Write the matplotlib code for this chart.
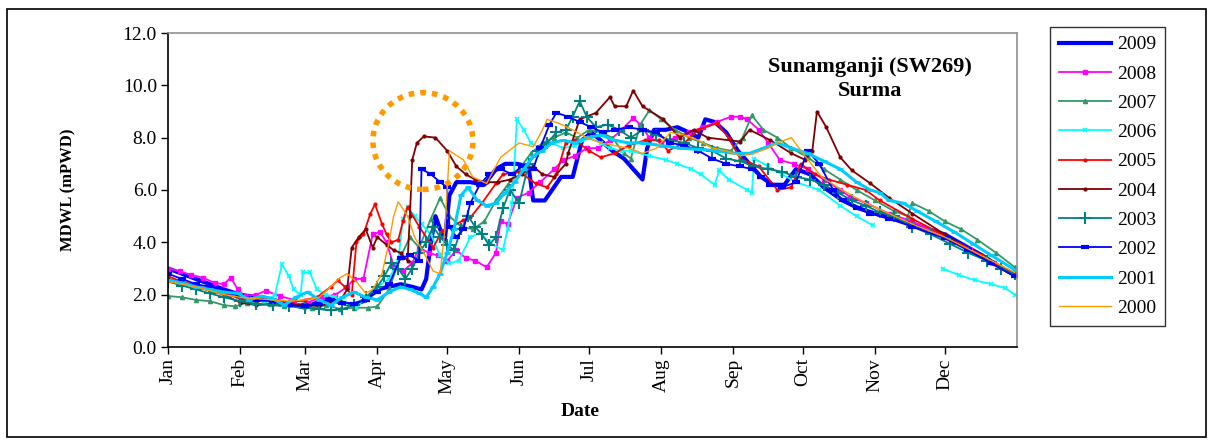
import matplotlib
matplotlib.use('Agg')
import matplotlib.pyplot as plt
from matplotlib.patches import Ellipse, Rectangle
import numpy as np

plt.rcParams['font.family'] = ['Liberation Serif', 'DejaVu Serif']

# ---- data: day of year (0 = 1 Jan) and water level (mPWD) ----
MONTHS = ['Jan', 'Feb', 'Mar', 'Apr', 'May', 'Jun', 'Jul', 'Aug', 'Sep', 'Oct', 'Nov', 'Dec']
MONTH_START = [0, 31, 59, 90, 120, 151, 181, 212, 243, 273, 304, 334]

DAYS_2009 = [0, 6, 12, 18, 24, 31, 38, 45, 52, 59, 64, 69, 74, 79, 84, 90, 95, 100, 105, 109,
             111, 113, 115, 117, 119, 121, 124, 130, 136, 141, 145, 150, 155, 157, 162, 169, 174, 178, 182, 186,
             191, 196, 200, 204, 206, 209, 214, 219, 224, 228, 231, 235, 240, 245, 250, 255, 260, 265, 270, 276,
             282, 290, 297, 304, 312, 320, 327, 334, 342, 350, 357, 364]
WL_2009 = [3.0, 2.8, 2.6, 2.4, 2.2, 2.0, 1.9, 1.8, 1.65, 1.5, 1.7, 1.85, 1.7, 1.6, 1.75, 2.2, 2.3, 2.4, 2.3, 2.2,
           2.6, 4.0, 5.0, 4.5, 4.1, 5.8, 6.3, 6.3, 6.2, 6.8, 7.0, 7.0, 6.9, 5.6, 5.6, 6.5, 6.5, 7.9, 8.2, 7.9,
           7.5, 7.2, 6.8, 6.4, 7.6, 8.3, 8.3, 8.4, 8.2, 8.0, 8.7, 8.6, 8.2, 7.5, 7.0, 6.5, 6.2, 6.2, 6.8, 6.6,
           6.1, 5.6, 5.3, 5.1, 4.9, 4.7, 4.5, 4.3, 3.9, 3.5, 3.1, 2.75]

DAYS_2008 = [0, 5, 10, 15, 20, 24, 27, 30, 33, 38, 42, 48, 54, 60, 66, 72, 77, 80, 84, 88,
             91, 94, 97, 101, 105, 108, 112, 116, 120, 124, 128, 132, 137, 141, 143, 146, 150, 155, 160, 166,
             170, 175, 180, 185, 190, 195, 200, 203, 207, 212, 218, 224, 230, 236, 242, 246, 249, 254, 258, 263,
             269, 275, 282, 289, 293, 300, 310, 320, 334, 345, 355, 364]
WL_2008 = [3.0, 2.9, 2.75, 2.65, 2.45, 2.4, 2.65, 2.2, 1.95, 2.0, 2.15, 1.95, 1.8, 1.7, 1.9, 2.0, 2.3, 2.6, 2.6, 4.3,
           4.4, 4.0, 3.1, 2.9, 3.2, 3.8, 3.6, 3.5, 3.3, 3.7, 3.4, 3.3, 3.05, 3.6, 4.8, 4.7, 5.7, 5.9, 6.3, 6.8,
           7.15, 7.3, 7.6, 7.6, 7.9, 8.3, 8.75, 8.5, 8.0, 7.8, 8.0, 8.2, 8.4, 8.6, 8.8, 8.8, 8.7, 8.3, 7.8, 7.15,
           7.0, 6.8, 6.4, 6.0, 5.75, 5.5, 5.1, 4.8, 4.2, 3.7, 3.2, 2.8]

DAYS_2007 = [0, 6, 12, 18, 24, 29, 34, 38, 44, 50, 56, 62, 68, 74, 80, 86, 90, 95, 100, 104,
             108, 113, 117, 121, 126, 131, 136, 141, 146, 151, 156, 161, 166, 171, 176, 181, 186, 191, 196, 199,
             203, 207, 212, 218, 224, 230, 236, 242, 247, 251, 256, 262, 268, 275, 282, 289, 296, 304, 312, 318,
             320, 327, 334, 341, 348, 356, 364]
WL_2007 = [1.95, 1.9, 1.8, 1.75, 1.6, 1.55, 1.7, 1.8, 1.65, 1.55, 1.6, 1.5, 1.6, 1.45, 1.5, 1.5, 1.55, 2.2, 3.45, 4.2,
           3.8, 4.9, 5.7, 5.0, 4.6, 4.5, 4.8, 5.6, 6.2, 6.8, 7.4, 7.8, 8.0, 8.2, 8.0, 8.3, 8.2, 8.0, 7.4, 7.2,
           8.5, 9.05, 8.7, 8.3, 8.0, 7.8, 7.6, 7.5, 8.0, 8.85, 8.3, 8.0, 7.6, 7.25, 6.8, 6.4, 6.0, 5.6, 5.2, 5.0,
           5.5, 5.2, 4.8, 4.5, 4.1, 3.6, 3.05]

DAYS_2006 = [0, 6, 12, 18, 24, 30, 36, 42, 46, 49, 52, 54, 57, 58, 61, 64, 68, 72, 76, 81,
             85, 90, 95, 99, 101, 103, 106, 109, 113, 117, 121, 125, 130, 134, 138, 144, 146, 148, 150, 153,
             156, 160, 165, 170, 175, 181, 186, 190, 195, 199, 207, 214, 219, 225, 229, 235, 237, 241, 249, 251,
             252, 258, 264, 270, 280, 289, 296, 303, 318, 333, 340, 347, 354, 360, 364]
WL_2006 = [2.6, 2.45, 2.3, 2.2, 2.05, 1.9, 1.85, 1.75, 2.0, 3.17, 2.7, 2.2, 2.0, 2.85, 2.85, 2.2, 2.0, 1.9, 1.7, 1.5,
           1.9, 2.3, 2.6, 3.3, 4.9, 5.35, 5.0, 4.7, 4.3, 3.5, 3.2, 3.3, 4.2, 4.35, 4.0, 3.7, 4.5, 5.5, 8.7, 8.3,
           7.8, 7.6, 7.8, 7.6, 7.7, 8.0, 7.8, 7.6, 7.5, 7.5, 7.3, 7.15, 7.0, 6.8, 6.6, 6.2, 6.75, 6.4, 6.0, 5.9,
           7.2, 6.9, 6.6, 6.3, 6.0, 5.4, 5.0, 4.65, np.nan, 3.0, 2.75, 2.55, 2.4, 2.25, 2.0]

DAYS_2005 = [0, 6, 12, 18, 24, 31, 38, 45, 52, 59, 64, 70, 73, 76, 79, 81, 84, 87, 89, 92,
             94, 96, 99, 101, 103, 108, 114, 118, 122, 127, 130, 135, 141, 144, 151, 158, 163, 167, 171, 175,
             181, 186, 192, 198, 205, 211, 215, 222, 228, 236, 241, 246, 254, 262, 268, 272, 278, 284, 292, 300,
             306, 320, 335, 350, 364]
WL_2005 = [2.7, 2.5, 2.35, 2.2, 2.05, 1.85, 1.75, 1.8, 1.7, 1.8, 1.9, 2.3, 2.55, 2.3, 2.0, 4.0, 4.3, 5.1, 5.45, 4.7,
           4.3, 4.0, 4.1, 4.8, 5.35, 4.6, 3.8, 4.45, 4.6, 4.85, 4.95, 5.5, 6.25, 6.6, 6.7, 6.25, 6.1, 6.6, 7.8, 7.9,
           7.5, 7.25, 7.4, 7.7, 7.9, 7.9, 7.5, 7.8, 8.3, 8.55, 8.0, 7.2, 6.9, 6.0, 6.1, 7.0, 6.6, 6.4, 6.2, 6.0,
           5.6, 4.9, 4.2, 3.5, 2.75]

DAYS_2004 = [0, 6, 12, 18, 24, 31, 38, 45, 52, 59, 65, 70, 74, 77, 79, 82, 85, 88, 90, 94,
             97, 100, 103, 104, 105, 107, 110, 115, 120, 124, 128, 132, 137, 142, 147, 152, 157, 161, 166, 171,
             172, 177, 184, 190, 192, 197, 200, 204, 213, 220, 226, 232, 246, 250, 259, 268, 274, 277, 279, 283,
             289, 294, 302, 310, 320, 334, 344, 354, 364]
WL_2004 = [2.6, 2.45, 2.3, 2.15, 2.0, 1.7, 1.6, 1.65, 1.6, 1.65, 1.55, 1.7, 1.75, 2.2, 3.8, 4.2, 4.5, 3.8, 4.2, 3.9,
           3.7, 3.6, 3.3, 5.0, 7.15, 7.8, 8.05, 8.0, 7.5, 6.9, 6.6, 6.4, 6.3, 6.3, 6.4, 6.6, 6.9, 6.6, 6.5, 7.0,
           7.4, 8.7, 8.95, 9.55, 9.2, 9.2, 9.8, 9.2, 8.7, 8.0, 8.3, 8.0, 7.85, 8.3, 7.9, 7.4, 7.15, 7.5, 9.0, 8.4,
           7.25, 6.75, 6.25, 5.7, 5.1, 4.3, 3.7, 3.2, 2.7]

DAYS_2003 = [0, 6, 12, 18, 24, 31, 38, 45, 52, 59, 65, 70, 75, 80, 85, 90, 93, 96, 99, 102,
             105, 108, 111, 114, 117, 120, 123, 126, 129, 132, 135, 138, 141, 144, 147, 151, 155, 159, 163, 167,
             171, 174, 177, 180, 184, 189, 194, 199, 204, 210, 216, 222, 228, 234, 240, 246, 252, 258, 264, 270,
             276, 282, 288, 294, 300, 306, 312, 320, 328, 336, 344, 352, 358, 364]
WL_2003 = [2.5, 2.35, 2.2, 2.05, 1.9, 1.75, 1.65, 1.6, 1.55, 1.5, 1.45, 1.4, 1.45, 1.6, 1.9, 2.3, 2.7, 3.2, 3.0, 2.6,
           3.0, 3.6, 4.0, 4.6, 4.2, 3.9, 3.7, 4.5, 5.0, 4.6, 4.3, 3.9, 4.2, 5.3, 6.0, 5.5, 7.0, 7.5, 7.8, 8.2,
           8.3, 8.8, 9.4, 8.8, 8.4, 8.5, 8.3, 8.0, 8.3, 8.1, 7.9, 7.8, 7.6, 7.5, 7.2, 7.1, 6.9, 6.8, 6.7, 6.5,
           6.4, 6.2, 5.9, 5.6, 5.4, 5.15, 5.0, 4.6, 4.3, 3.95, 3.6, 3.3, 3.0, 2.8]

DAYS_2002 = [0, 6, 12, 18, 24, 31, 38, 45, 52, 59, 65, 70, 75, 80, 85, 90, 95, 100, 104, 108,
             109, 113, 117, 120, 121, 124, 127, 130, 134, 138, 143, 148, 152, 157, 160, 164, 167, 172, 177, 182,
             187, 192, 198, 204, 210, 216, 222, 228, 234, 240, 246, 251, 255, 259, 264, 270, 275, 280, 286, 290,
             296, 302, 310, 320, 334, 344, 354, 364]
WL_2002 = [2.8, 2.6, 2.4, 2.3, 2.1, 1.95, 1.8, 1.75, 1.6, 1.55, 1.65, 1.8, 1.7, 1.65, 1.8, 2.1, 2.4, 3.4, 3.5, 3.3,
           6.8, 6.6, 6.3, 6.1, 4.6, 4.2, 4.5, 5.5, 6.2, 6.6, 6.8, 6.6, 6.9, 6.8, 7.6, 8.5, 8.95, 8.8, 8.6, 8.4,
           8.2, 8.3, 8.4, 8.3, 8.2, 7.8, 7.7, 7.5, 7.2, 7.0, 6.9, 6.8, 6.5, 6.2, 6.1, 6.3, 7.5, 7.0, 6.0, 5.6,
           5.3, 5.1, 4.9, 4.6, 4.15, 3.7, 3.2, 2.7]

DAYS_2001 = [0, 6, 12, 18, 24, 30, 35, 40, 45, 50, 55, 60, 65, 70, 75, 80, 85, 90, 95, 100,
             104, 108, 111, 114, 117, 120, 123, 126, 129, 133, 137, 141, 145, 149, 153, 157, 161, 165, 170, 175,
             180, 186, 192, 198, 204, 212, 220, 228, 236, 244, 250, 256, 262, 268, 275, 282, 289, 296, 302, 306,
             310, 316, 322, 330, 338, 346, 354, 364]
WL_2001 = [2.55, 2.45, 2.3, 2.2, 2.1, 2.05, 1.8, 1.95, 1.85, 1.6, 1.9, 2.1, 1.8, 1.6, 1.9, 2.1, 1.9, 1.8, 2.1, 2.3,
           2.2, 2.05, 1.9, 2.3, 2.8, 3.6, 4.5, 5.8, 6.1, 5.6, 5.4, 5.5, 5.9, 6.3, 6.8, 7.3, 7.5, 7.8, 7.9, 7.8,
           8.0, 8.1, 7.9, 7.8, 7.8, 7.7, 7.6, 7.55, 7.5, 7.4, 7.4, 7.6, 7.8, 7.6, 7.4, 7.1, 6.8, 6.3, 6.0, 5.9,
           5.6, 5.5, 5.2, 4.8, 4.4, 3.95, 3.5, 2.95]

DAYS_2000 = [0, 6, 12, 18, 24, 31, 38, 45, 52, 59, 65, 70, 74, 77, 81, 85, 88, 92, 95, 97,
             99, 103, 106, 110, 114, 117, 119, 121, 127, 131, 137, 143, 151, 157, 161, 163, 168, 174, 180, 186,
             192, 198, 204, 210, 216, 222, 228, 234, 240, 246, 252, 258, 262, 268, 273, 281, 288, 294, 300, 310,
             320, 334, 344, 354, 364]
WL_2000 = [2.5, 2.4, 2.3, 2.15, 2.0, 1.9, 1.85, 1.8, 1.75, 1.8, 1.9, 2.3, 2.65, 2.8, 2.5, 2.05, 2.2, 2.8, 4.0, 5.0,
           5.55, 5.0, 4.2, 3.6, 2.9, 2.8, 4.45, 7.5, 7.15, 6.5, 6.25, 7.25, 7.8, 7.65, 8.3, 8.7, 8.55, 8.3, 8.0, 7.8,
           7.7, 7.6, 7.4, 7.6, 8.2, 8.1, 7.9, 7.6, 7.5, 7.3, 7.4, 7.6, 7.8, 8.0, 7.4, 6.5, 6.1, 5.8, 5.5, 5.1,
           4.7, 4.2, 3.75, 3.3, 2.85]

YEARS = ['2009', '2008', '2007', '2006', '2005', '2004', '2003', '2002', '2001', '2000']
SERIES = [(DAYS_2009, WL_2009), (DAYS_2008, WL_2008), (DAYS_2007, WL_2007), (DAYS_2006, WL_2006),
          (DAYS_2005, WL_2005), (DAYS_2004, WL_2004), (DAYS_2003, WL_2003), (DAYS_2002, WL_2002),
          (DAYS_2001, WL_2001), (DAYS_2000, WL_2000)]

# line styles per year (Excel-like)
STYLES = {
    '2009': dict(color='#0000FF', lw=3.0),
    '2008': dict(color='#FF00FF', lw=1.3, marker='s', ms=2.5),
    '2007': dict(color='#339966', lw=1.3, marker='^', ms=3),
    '2006': dict(color='#00FFFF', lw=1.3, marker='x', ms=3.5, mew=1.2),
    '2005': dict(color='#FF0000', lw=1.3, marker='o', ms=2),
    '2004': dict(color='#800000', lw=1.3, marker='o', ms=2),
    '2003': dict(color='#008080', lw=1.3, marker='+', ms=8, mew=1.5),
    '2002': dict(color='#0000FF', lw=1.3, marker='_', ms=6, mew=3),
    '2001': dict(color='#00CCFF', lw=2.2, marker='_', ms=4, mew=2),
    '2000': dict(color='#FF9900', lw=1.0),
}

fig = plt.figure(figsize=(12.13, 4.41), dpi=100)
ax = fig.add_axes([168/1213, 1 - 347/441, (1017 - 168)/1213, (347 - 33)/441])

handles = []
for yr, (d, v) in zip(YEARS, SERIES):
    h, = ax.plot(d, v, label=yr, **STYLES[yr])
    handles.append(h)

# dotted orange circle highlighting the April 2004 flash flood
ax.add_patch(Ellipse((109.6, 7.87), 43, 3.7, fill=False, ec='#FF9900', lw=4,
                     ls=(0, (1, 1.1)), zorder=5))

ax.set_xlim(0, 365)
ax.set_ylim(0, 12)
ax.set_yticks(np.arange(0, 12.1, 2))
ax.set_yticklabels([f'{t:.1f}' for t in np.arange(0, 12.1, 2)], fontsize=14)
ax.set_xticks(MONTH_START)
ax.set_xticklabels(MONTHS, rotation=90, fontsize=14)
ax.tick_params(direction='out', length=5, width=1, pad=3)

for s in ['left', 'bottom']:
    ax.spines[s].set_color('black')
    ax.spines[s].set_linewidth(1.2)
for s in ['top', 'right']:
    ax.spines[s].set_color('#909090')
    ax.spines[s].set_linewidth(1.2)

fig.text(870/1213, 1 - 67/441, 'Sunamganji (SW269)', ha='center', va='center',
         fontsize=16, fontweight='bold')
fig.text(870/1213, 1 - 91/441, 'Surma', ha='center', va='center',
         fontsize=16, fontweight='bold')
fig.text(68/1213, 1 - 190/441, 'MDWL (mPWD)', rotation=90, ha='center', va='center',
         fontsize=12, fontweight='bold')
fig.text(580/1213, 1 - 411/441, 'Date', ha='center', va='center', fontsize=14, fontweight='bold')

leg = fig.legend(handles, YEARS, loc='upper left', bbox_to_anchor=(1050/1213, 1 - 27/441),
                 bbox_transform=fig.transFigure, fontsize=14, frameon=True, fancybox=False,
                 handlelength=2.7, handletextpad=0.3, labelspacing=0.6, borderpad=0.45,
                 borderaxespad=0, markerscale=1.0)
leg.get_frame().set_edgecolor('black')
leg.get_frame().set_linewidth(1.0)

# outer chart border
fig.patches.append(Rectangle((7/1213, 1 - 437/441), 1199/1213, 428/441, transform=fig.transFigure,
                             fill=False, ec='black', lw=1.2))

plt.savefig('out.png', dpi=100, facecolor='white')
